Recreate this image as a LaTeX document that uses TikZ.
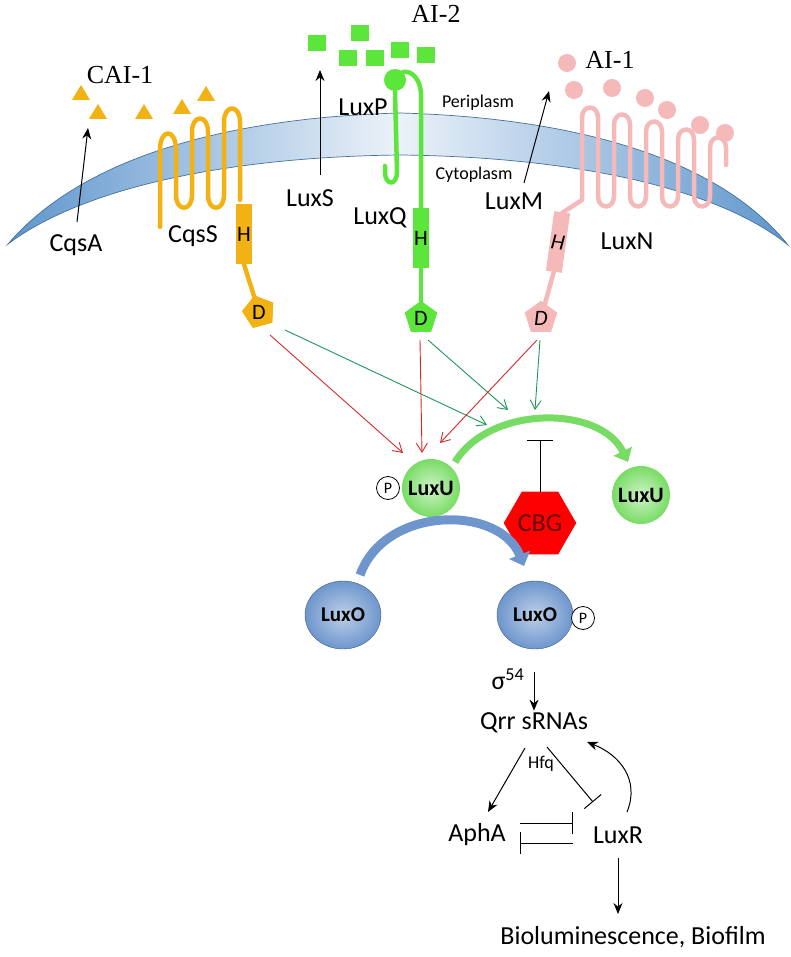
\documentclass[tikz,border=0pt]{standalone}
\usepackage{fontspec}
\setmainfont{Carlito}
\newfontfamily\tnr{Liberation Serif}
\usetikzlibrary{arrows.meta,shapes.geometric}
\definecolor{orng}{RGB}{242,178,20}
\definecolor{grn}{RGB}{92,230,60}
\definecolor{pnk}{RGB}{245,185,185}
\definecolor{memb}{RGB}{95,150,205}
\definecolor{redar}{RGB}{215,40,40}
\definecolor{grnar}{RGB}{30,150,90}
\definecolor{luxu}{RGB}{120,220,100}
\definecolor{luxo}{RGB}{110,150,205}
\begin{document}
\begin{tikzpicture}[x=1pt,y=-1pt,
  lbl/.style={font=\fontsize{26}{28}\selectfont,inner sep=0pt},
  sr/.style={font=\tnr\fontsize{26}{28}\selectfont,inner sep=0pt},
  sm/.style={font=\fontsize{18}{20}\selectfont,inner sep=0pt},
  coil/.style={line width=4.5pt,line cap=round,line join=round},
  hbox/.style={minimum width=16pt,minimum height=60pt,inner sep=0pt,font=\fontsize{22}{22}\selectfont},
  dpent/.style={regular polygon,regular polygon sides=5,minimum size=34pt,inner sep=0pt},
  dlet/.style={font=\fontsize{22}{22}\selectfont,inner sep=0pt},
  blk/.style={-{Stealth[length=11pt,width=9pt]},line width=1pt},
  thin/.style={-{Straight Barb[length=9pt,width=11pt]},line width=0.9pt},
  inh/.style={-{Bar[width=22pt]},line width=1pt},
  ubal/.style={circle,inner sep=0pt,minimum size=58pt,inner color=luxu!35,outer color=luxu,font=\bfseries\fontsize{22}{22}\selectfont},
  obal/.style={ellipse,draw=luxo!60!black,inner color=luxo!45,outer color=luxo,minimum width=76pt,minimum height=68pt,inner sep=0pt,font=\bfseries\fontsize{21}{21}\selectfont},
  pc/.style={circle,draw,line width=0.8pt,fill=white,inner sep=0pt,minimum size=23pt,font=\fontsize{16}{16}\selectfont},
  mid/.style={font=\fontsize{26}{28}\selectfont,inner sep=2pt}]
\useasboundingbox (0,0) rectangle (790,957);
% membrane
\shade[left color=memb,right color=memb,middle color=memb!12] (8,244) .. controls (80,160) and (220,118) .. (400,113) .. controls (580,118) and (720,160) .. (788,245) .. controls (720,190) and (580,157) .. (400,155) .. controls (220,157) and (80,190) .. (8,244) -- cycle;
\draw[memb!75!black,line width=0.7pt] (8,244) .. controls (80,160) and (220,118) .. (400,113) .. controls (580,118) and (720,160) .. (788,245) .. controls (720,190) and (580,157) .. (400,155) .. controls (220,157) and (80,190) .. (8,244) -- cycle;
% signals
\node[sr] (cai) at (120,75) {CAI-1};
\node[sr] (ai2) at (436,14) {AI-2};
\node[sr] (ai1) at (610,60) {AI-1};
\foreach \p in {(81,93),(98,112),(144,112),(182,107),(206,94)}
  \fill[orng] \p ++(-9,7) -- ++(18,0) -- ++(-9,-15) -- cycle;
\foreach \p in {(317,43),(360,33),(348,58),(375,58),(400,50),(426,55)}
  \fill[grn] \p ++(-9,-8) rectangle ++(18,16);
\foreach \p in {(567,63),(574,90),(612,88),(645,98),(667,110),(700,125),(725,133)}
  \fill[pnk] \p circle (9);
% synthase arrows
\node[lbl] (cqsa) at (76,245) {CqsA};
\coordinate (cqsaT) at (88,128);
\draw[blk] (77,222) -- (cqsaT);
\node[lbl] (luxs) at (310,198) {LuxS};
\coordinate (luxsT) at (320,70);
\draw[blk] (320,175) -- (luxsT);
\node[lbl] (luxm) at (514,201) {LuxM};
\coordinate (luxmT) at (549,91);
\draw[blk] (524,183) -- (luxmT);
\node[sm] (peri) at (478,103) {Periplasm};
\node[sm] (cyto) at (474,175) {Cytoplasm};
% CqsS
\draw[orng,coil] (160,227) -- (160,150) .. controls (160,128) and (176,128) .. (176,150) -- (176,195) .. controls (176,212) and (192,212) .. (192,195) -- (192,132) .. controls (192,114) and (208,114) .. (208,132) -- (208,195) .. controls (208,212) and (224,212) .. (224,195) -- (224,122) .. controls (224,104) and (240,104) .. (240,122) -- (240,200);
\node[hbox,fill=orng] (hc) at (244,234) {H};
\node[dpent,fill=orng,rotate=15] (dc) at (259,312) {};
\draw[orng,coil] (hc.south) -- (dc.center);
\node[dpent,fill=orng,rotate=15] at (259,312) {};
\node[dlet] at (259,312) {D};
\node[lbl] (cqss) at (193,236) {CqsS};
% LuxPQ
\node[circle,fill=grn,minimum size=22pt,inner sep=0pt] (luxpb) at (395,80) {};
\draw[grn,coil] (luxpb.south) -- (397,172) .. controls (397,186) and (385,186) .. (385,172) -- (385,166);
\node[hbox,fill=grn] (hq) at (421,238) {H};
\draw[grn,coil] (luxpb.north east) .. controls (412,70) and (421,80) .. (421,95) -- (hq.north);
\node[dpent,fill=grn] (dq) at (421,318) {};
\draw[grn,coil] (hq.south) -- (dq.center);
\node[dpent,fill=grn] at (421,318) {};
\node[dlet] at (421,318) {D};
\node[lbl] (luxp) at (363,107) {LuxP};
\node[lbl] (luxq) at (380,218) {LuxQ};
% LuxN
\draw[pnk,coil] (562,213) -- (582,200) -- (582,118) .. controls (582,104) and (598,104) .. (598,118) -- (598,196) .. controls (598,210) and (614,210) .. (614,196) -- (614,125) .. controls (614,111) and (630,111) .. (630,125) -- (630,196) .. controls (630,210) and (646,210) .. (646,196) -- (646,132) .. controls (646,118) and (662,118) .. (662,132) -- (662,196) .. controls (662,210) and (678,210) .. (678,196) -- (678,140) .. controls (678,126) and (694,126) .. (694,140) -- (694,196) .. controls (694,210) and (710,210) .. (710,196) -- (710,148) .. controls (710,134) and (726,134) .. (726,148) -- (726,165);
\node[hbox,fill=pnk,rotate=-8,font=\itshape\fontsize{22}{22}\selectfont] (hn) at (558,242) {H};
\node[dpent,fill=pnk] (dn) at (541,318) {};
\draw[pnk,coil] (hn.south) -- (dn.center);
\node[dpent,fill=pnk] at (541,318) {};
\node[dlet,font=\itshape\fontsize{22}{22}\selectfont] at (541,318) {D};
\node[lbl] (luxn) at (627,241) {LuxN};
% phosphorelay arrows
\coordinate (r1) at (403,453); \coordinate (r2) at (422,453); \coordinate (r3) at (440,443);
\coordinate (g1) at (487,425); \coordinate (g2) at (508,410); \coordinate (g3) at (535,410);
\draw[thin,redar] (270,335) -- (r1);
\draw[thin,grnar] (285,330) -- (g1);
\draw[thin,redar] (420,340) -- (r2);
\draw[thin,grnar] (428,340) -- (g2);
\draw[thin,redar] (537,340) -- (r3);
\draw[thin,grnar] (540,340) -- (g3);
% LuxU
\draw[luxu,line width=7pt,-{Triangle[length=12pt,width=20pt]}] (455,462) .. controls (490,405) and (600,405) .. (628,462);
\node[ubal] (luxu1) at (431,488) {LuxU};
\node[pc] (p1) at (388,488) {P};
\node[ubal] (luxu2) at (641,495) {LuxU};
% CBG
\node[regular polygon,regular polygon sides=6,fill=red,minimum size=66pt,inner sep=0pt,font=\fontsize{26}{26}\selectfont,text=red!40!black] (cbg) at (540,523) {CBG};
\coordinate (cbgT) at (540,440);
\draw[-{Bar[width=26pt]},line width=1pt] (540,492) -- (cbgT);
% LuxO
\draw[luxo,line width=9pt,-{Triangle[length=12pt,width=22pt]}] (360,575) .. controls (385,505) and (500,505) .. (524,566);
\node[obal] (luxo1) at (343,615) {LuxO};
\node[obal] (luxo2) at (535,615) {LuxO};
\node[pc] (p2) at (583,618) {P};
% downstream
\node[lbl] (sig) at (508,679) {σ\textsuperscript{54}};
\node[mid] (qrr) at (534,723) {Qrr sRNAs};
\draw[blk] (534,672) -- (qrr.north);
\node[sm] (hfq) at (541,764) {Hfq};
\node[mid] (apha) at (477,835) {AphA};
\node[mid] (luxr) at (618,835) {LuxR};
\draw[blk] (525,748) -- (488,812);
\draw[inh] (547,747) -- (593,802);
\draw[inh] (520,823) -- (573,823);
\draw[inh] (573,843) -- (520,843);
\draw[blk] (627,812) .. controls (640,780) and (620,755) .. (587,742);
\node[mid] (bio) at (633,937) {Bioluminescence, Biofilm};
\coordinate (bioT) at (618,914);
\draw[blk] (618,858) -- (bioT);
\end{tikzpicture}
\end{document}
